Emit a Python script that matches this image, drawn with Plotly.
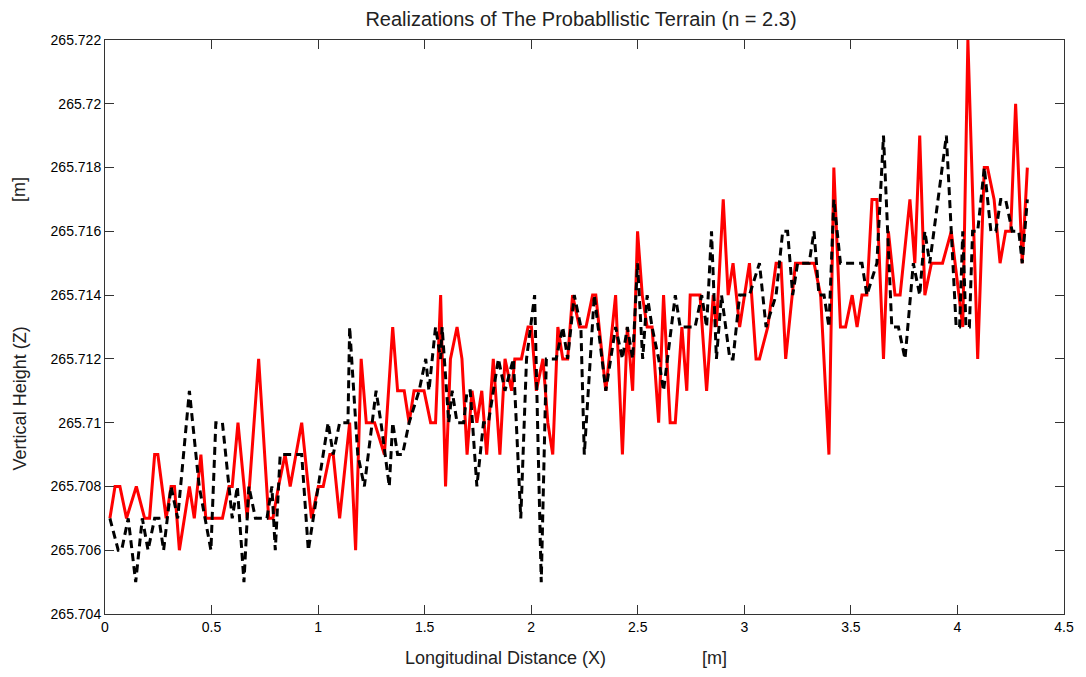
import plotly.graph_objects as go

# Realization 1 (red, solid): x [m], z [m]
red_x = [0.023, 0.047, 0.070, 0.101, 0.147, 0.186, 0.209, 0.233, 0.248, 0.287, 0.310, 0.326, 0.349, 0.396, 0.419,
         0.450, 0.473, 0.551, 0.582, 0.597, 0.624, 0.667, 0.721, 0.768, 0.788, 0.814, 0.845, 0.869, 0.923, 0.969,
         1.001, 1.024, 1.055, 1.071, 1.101, 1.148, 1.176, 1.202, 1.226, 1.265, 1.311, 1.350, 1.373, 1.404, 1.427,
         1.450, 1.497, 1.528, 1.551, 1.575, 1.598, 1.621, 1.652, 1.675, 1.699, 1.722, 1.745, 1.768, 1.791, 1.822,
         1.853, 1.877, 1.908, 1.923, 1.954, 1.985, 2.001, 2.024, 2.055, 2.078, 2.101, 2.125, 2.148, 2.171, 2.194,
         2.226, 2.257, 2.288, 2.303, 2.350, 2.396, 2.428, 2.451, 2.476, 2.499, 2.521, 2.544, 2.567, 2.598, 2.621,
         2.652, 2.676, 2.707, 2.730, 2.746, 2.792, 2.823, 2.854, 2.869, 2.901, 2.924, 2.947, 2.978, 3.024, 3.055,
         3.071, 3.110, 3.149, 3.172, 3.194, 3.240, 3.327, 3.358, 3.397, 3.420, 3.451, 3.475, 3.506, 3.529, 3.552,
         3.575, 3.599, 3.622, 3.653, 3.676, 3.707, 3.731, 3.777, 3.800, 3.823, 3.847, 3.878, 3.930, 3.971, 4.025,
         4.049, 4.095, 4.126, 4.141, 4.172, 4.200, 4.226, 4.250, 4.273, 4.304, 4.328]
red_z = [265.707, 265.708, 265.708, 265.707, 265.708, 265.707, 265.707, 265.709, 265.709, 265.707, 265.708, 265.708,
         265.706, 265.708, 265.707, 265.709, 265.707, 265.707, 265.708, 265.708, 265.710, 265.707, 265.712, 265.707,
         265.707, 265.708, 265.709, 265.708, 265.710, 265.707, 265.708, 265.708, 265.709, 265.709, 265.707, 265.710,
         265.706, 265.712, 265.710, 265.710, 265.709, 265.713, 265.711, 265.711, 265.710, 265.711, 265.711, 265.710,
         265.710, 265.714, 265.708, 265.712, 265.713, 265.712, 265.709, 265.711, 265.710, 265.711, 265.709, 265.712,
         265.709, 265.712, 265.711, 265.712, 265.712, 265.713, 265.713, 265.711, 265.712, 265.710, 265.709, 265.713,
         265.712, 265.712, 265.714, 265.713, 265.713, 265.714, 265.714, 265.711, 265.714, 265.709, 265.713, 265.711,
         265.716, 265.714, 265.713, 265.713, 265.710, 265.714, 265.710, 265.710, 265.713, 265.711, 265.714, 265.714,
         265.711, 265.714, 265.713, 265.717, 265.714, 265.715, 265.713, 265.715, 265.712, 265.712, 265.713, 265.715,
         265.715, 265.712, 265.715, 265.715, 265.714, 265.709, 265.718, 265.713, 265.713, 265.714, 265.713, 265.714,
         265.714, 265.717, 265.717, 265.712, 265.716, 265.714, 265.714, 265.717, 265.715, 265.719, 265.714, 265.715,
         265.715, 265.716, 265.713, 265.722, 265.712, 265.718, 265.718, 265.717, 265.715, 265.716, 265.716, 265.720,
         265.715, 265.718]

# Realization 2 (black, dashed)
black_x = [0.023, 0.062, 0.078, 0.109, 0.144, 0.175, 0.202, 0.233, 0.253, 0.275, 0.310, 0.341, 0.396, 0.442, 0.497,
           0.520, 0.551, 0.597, 0.621, 0.652, 0.675, 0.706, 0.760, 0.783, 0.799, 0.822, 0.923, 0.954, 1.047, 1.071,
           1.101, 1.140, 1.148, 1.186, 1.217, 1.272, 1.295, 1.334, 1.350, 1.373, 1.396, 1.427, 1.474, 1.505, 1.520,
           1.551, 1.575, 1.582, 1.613, 1.629, 1.652, 1.683, 1.699, 1.714, 1.745, 1.776, 1.799, 1.846, 1.877, 1.916,
           1.951, 1.978, 2.016, 2.047, 2.071, 2.117, 2.148, 2.171, 2.202, 2.233, 2.249, 2.296, 2.350, 2.396, 2.428,
           2.451, 2.476, 2.499, 2.523, 2.544, 2.567, 2.598, 2.621, 2.676, 2.699, 2.769, 2.800, 2.823, 2.846, 2.869,
           2.893, 2.932, 2.947, 2.978, 3.024, 3.071, 3.102, 3.149, 3.180, 3.203, 3.227, 3.250, 3.304, 3.327, 3.350,
           3.374, 3.397, 3.420, 3.451, 3.552, 3.575, 3.622, 3.653, 3.692, 3.723, 3.754, 3.793, 3.823, 3.847, 3.870,
           3.948, 3.994, 4.010, 4.025, 4.040, 4.056, 4.071, 4.095, 4.126, 4.157, 4.180, 4.203, 4.226, 4.257, 4.288,
           4.304, 4.328]
black_z = [265.707, 265.706, 265.706, 265.707, 265.705, 265.707, 265.706, 265.707, 265.707, 265.706, 265.708, 265.707,
           265.711, 265.708, 265.706, 265.710, 265.710, 265.707, 265.708, 265.705, 265.708, 265.707, 265.707, 265.708,
           265.706, 265.709, 265.709, 265.706, 265.710, 265.709, 265.710, 265.710, 265.713, 265.709, 265.708, 265.711,
           265.710, 265.708, 265.710, 265.709, 265.709, 265.710, 265.711, 265.712, 265.711, 265.713, 265.712, 265.713,
           265.710, 265.711, 265.710, 265.710, 265.711, 265.711, 265.708, 265.710, 265.710, 265.712, 265.711, 265.712,
           265.707, 265.712, 265.714, 265.705, 265.712, 265.712, 265.713, 265.712, 265.714, 265.713, 265.709, 265.714,
           265.711, 265.713, 265.712, 265.713, 265.712, 265.715, 265.712, 265.714, 265.713, 265.712, 265.711, 265.714,
           265.713, 265.713, 265.714, 265.713, 265.716, 265.712, 265.714, 265.712, 265.712, 265.714, 265.714, 265.715,
           265.713, 265.714, 265.716, 265.716, 265.714, 265.715, 265.715, 265.716, 265.714, 265.714, 265.713, 265.717,
           265.715, 265.715, 265.714, 265.715, 265.719, 265.713, 265.713, 265.712, 265.715, 265.714, 265.716, 265.715,
           265.719, 265.713, 265.713, 265.716, 265.713, 265.713, 265.716, 265.716, 265.718, 265.716, 265.716, 265.717,
           265.717, 265.716, 265.716, 265.715, 265.717]

x_tickvals = [0, 0.5, 1, 1.5, 2, 2.5, 3, 3.5, 4, 4.5]
x_ticktext = ["0", "0.5", "1", "1.5", "2", "2.5", "3", "3.5", "4", "4.5"]
y_tickvals = [265.704, 265.706, 265.708, 265.710, 265.712, 265.714, 265.716, 265.718, 265.720, 265.722]
y_ticktext = ["265.704", "265.706", "265.708", "265.71", "265.712", "265.714", "265.716", "265.718", "265.72", "265.722"]

FONT = "Liberation Sans, Arial, sans-serif"

fig = go.Figure()
fig.add_trace(go.Scatter(x=red_x, y=red_z, mode="lines",
                         line=dict(color="#ff0000", width=3), showlegend=False))
fig.add_trace(go.Scatter(x=black_x, y=black_z, mode="lines",
                         line=dict(color="#000000", width=3, dash="8px,5px"), showlegend=False))

axis_common = dict(showgrid=False, zeroline=False, showline=True, linecolor="#333333", linewidth=1,
                   mirror="allticks", ticks="inside", ticklen=9, tickcolor="#333333",
                   tickfont=dict(family=FONT, size=14, color="black"))

fig.update_xaxes(range=[0, 4.5], tickvals=x_tickvals, ticktext=x_ticktext, **axis_common)
fig.update_yaxes(range=[265.704, 265.722], tickvals=y_tickvals, ticktext=y_ticktext, **axis_common)

fig.update_layout(
    width=1086, height=677,
    margin=dict(l=105, r=14, t=40, b=63),
    paper_bgcolor="white", plot_bgcolor="white",
    title=dict(text="Realizations of The Probabllistic Terrain (n = 2.3)",
               x=0.535, xanchor="center", y=0.972, yanchor="middle",
               font=dict(family=FONT, size=20, color="#222222")),
    annotations=[
        dict(text="Longitudinal Distance (X)", xref="paper", yref="paper", x=0.418, y=-0.077,
             xanchor="center", yanchor="middle", showarrow=False,
             font=dict(family=FONT, size=18, color="#222222")),
        dict(text="[m]", xref="paper", yref="paper", x=0.636, y=-0.077,
             xanchor="center", yanchor="middle", showarrow=False,
             font=dict(family=FONT, size=18, color="#222222")),
        dict(text="Vertical Height (Z)", xref="paper", yref="paper", x=-0.089, y=0.375,
             xanchor="center", yanchor="middle", showarrow=False, textangle=-90,
             font=dict(family=FONT, size=18, color="#222222")),
        dict(text="[m]", xref="paper", yref="paper", x=-0.089, y=0.74,
             xanchor="center", yanchor="middle", showarrow=False, textangle=-90,
             font=dict(family=FONT, size=18, color="#222222")),
    ],
)

fig.write_html("out.html")
